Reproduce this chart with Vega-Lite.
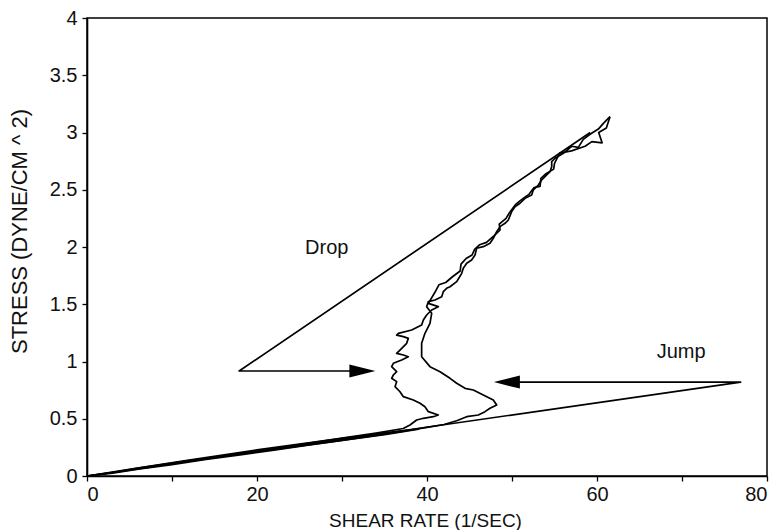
{
  "$schema": "https://vega.github.io/schema/vega-lite/v6.json",
  "width": 680,
  "height": 458,
  "autosize": {"type": "none"},
  "padding": {"left": 87, "top": 18, "right": 15, "bottom": 54},
  "background": "white",
  "config": {
    "font": "Liberation Sans",
    "view": {"stroke": "black", "strokeWidth": 1.5},
    "axis": {"grid": false, "domainColor": "black", "domainWidth": 1.6, "tickColor": "black", "tickWidth": 1.3, "tickSize": 5, "labelColor": "#111", "titleColor": "#111", "labelFont": "Liberation Sans", "titleFont": "Liberation Sans", "titleFontWeight": "normal"}
  },
  "datasets": {
    "paths": [
      {"series": "jump", "i": 0, "x": 0, "y": 0},
      {"series": "jump", "i": 1, "x": 76.9, "y": 0.82},
      {"series": "jump", "i": 2, "x": 50.5, "y": 0.82},
      {"series": "drop", "i": 0, "x": 59.2, "y": 3.0},
      {"series": "drop", "i": 1, "x": 17.9, "y": 0.917},
      {"series": "drop", "i": 2, "x": 32.0, "y": 0.917},
      {"series": "loop", "i": 0, "x": 0, "y": 0},
      {"series": "loop", "i": 1, "x": 5, "y": 0.05},
      {"series": "loop", "i": 2, "x": 12, "y": 0.13},
      {"series": "loop", "i": 3, "x": 20, "y": 0.212},
      {"series": "loop", "i": 4, "x": 28, "y": 0.292},
      {"series": "loop", "i": 5, "x": 35, "y": 0.362},
      {"series": "loop", "i": 6, "x": 39, "y": 0.41},
      {"series": "loop", "i": 7, "x": 36, "y": 0.385},
      {"series": "loop", "i": 8, "x": 28, "y": 0.31},
      {"series": "loop", "i": 9, "x": 20, "y": 0.228},
      {"series": "loop", "i": 10, "x": 12, "y": 0.138},
      {"series": "loop", "i": 11, "x": 5, "y": 0.058},
      {"series": "loop", "i": 12, "x": 0, "y": 0},
      {"series": "up", "i": 0, "x": 0, "y": 0},
      {"series": "up", "i": 1, "x": 3, "y": 0.025},
      {"series": "up", "i": 2, "x": 6, "y": 0.06},
      {"series": "up", "i": 3, "x": 10, "y": 0.1},
      {"series": "up", "i": 4, "x": 14, "y": 0.145},
      {"series": "up", "i": 5, "x": 18, "y": 0.185},
      {"series": "up", "i": 6, "x": 22, "y": 0.225},
      {"series": "up", "i": 7, "x": 26, "y": 0.27},
      {"series": "up", "i": 8, "x": 30, "y": 0.31},
      {"series": "up", "i": 9, "x": 34, "y": 0.355},
      {"series": "up", "i": 10, "x": 38, "y": 0.4},
      {"series": "up", "i": 11, "x": 40, "y": 0.425},
      {"series": "up", "i": 12, "x": 42, "y": 0.45},
      {"series": "up", "i": 13, "x": 43.49, "y": 0.483},
      {"series": "up", "i": 14, "x": 44.67, "y": 0.518},
      {"series": "up", "i": 15, "x": 46.04, "y": 0.533},
      {"series": "up", "i": 16, "x": 46.82, "y": 0.562},
      {"series": "up", "i": 17, "x": 47.41, "y": 0.591},
      {"series": "up", "i": 18, "x": 48.2, "y": 0.62},
      {"series": "up", "i": 19, "x": 47.8, "y": 0.664},
      {"series": "up", "i": 20, "x": 46.62, "y": 0.707},
      {"series": "up", "i": 21, "x": 45.45, "y": 0.751},
      {"series": "up", "i": 22, "x": 44.47, "y": 0.766},
      {"series": "up", "i": 23, "x": 43.49, "y": 0.81},
      {"series": "up", "i": 24, "x": 42.71, "y": 0.853},
      {"series": "up", "i": 25, "x": 41.53, "y": 0.911},
      {"series": "up", "i": 26, "x": 40.35, "y": 0.955},
      {"series": "up", "i": 27, "x": 39.37, "y": 1.042},
      {"series": "up", "i": 28, "x": 39.37, "y": 1.159},
      {"series": "up", "i": 29, "x": 39.76, "y": 1.246},
      {"series": "up", "i": 30, "x": 40.35, "y": 1.333},
      {"series": "up", "i": 31, "x": 40.55, "y": 1.421},
      {"series": "up", "i": 32, "x": 39.96, "y": 1.479},
      {"series": "up", "i": 33, "x": 40.16, "y": 1.523},
      {"series": "up", "i": 34, "x": 40.94, "y": 1.537},
      {"series": "up", "i": 35, "x": 41.73, "y": 1.566},
      {"series": "up", "i": 36, "x": 41.92, "y": 1.61},
      {"series": "up", "i": 37, "x": 42.31, "y": 1.639},
      {"series": "up", "i": 38, "x": 42.71, "y": 1.653},
      {"series": "up", "i": 39, "x": 43.49, "y": 1.697},
      {"series": "up", "i": 40, "x": 44.08, "y": 1.77},
      {"series": "up", "i": 41, "x": 44.27, "y": 1.814},
      {"series": "up", "i": 42, "x": 44.67, "y": 1.858},
      {"series": "up", "i": 43, "x": 45.25, "y": 1.886},
      {"series": "up", "i": 44, "x": 45.65, "y": 1.93},
      {"series": "up", "i": 45, "x": 45.84, "y": 1.989},
      {"series": "up", "i": 46, "x": 46.62, "y": 2.003},
      {"series": "up", "i": 47, "x": 47.41, "y": 2.032},
      {"series": "up", "i": 48, "x": 47.8, "y": 2.076},
      {"series": "up", "i": 49, "x": 48.2, "y": 2.134},
      {"series": "up", "i": 50, "x": 48.59, "y": 2.178},
      {"series": "up", "i": 51, "x": 49.18, "y": 2.207},
      {"series": "up", "i": 52, "x": 49.57, "y": 2.236},
      {"series": "up", "i": 53, "x": 49.96, "y": 2.309},
      {"series": "up", "i": 54, "x": 50.35, "y": 2.352},
      {"series": "up", "i": 55, "x": 50.94, "y": 2.382},
      {"series": "up", "i": 56, "x": 51.53, "y": 2.425},
      {"series": "up", "i": 57, "x": 52.31, "y": 2.454},
      {"series": "up", "i": 58, "x": 52.51, "y": 2.498},
      {"series": "up", "i": 59, "x": 53.1, "y": 2.541},
      {"series": "up", "i": 60, "x": 53.49, "y": 2.585},
      {"series": "up", "i": 61, "x": 53.88, "y": 2.614},
      {"series": "up", "i": 62, "x": 54.47, "y": 2.658},
      {"series": "up", "i": 63, "x": 54.67, "y": 2.701},
      {"series": "up", "i": 64, "x": 54.67, "y": 2.745},
      {"series": "up", "i": 65, "x": 55.06, "y": 2.775},
      {"series": "up", "i": 66, "x": 56.04, "y": 2.818},
      {"series": "up", "i": 67, "x": 57.02, "y": 2.88},
      {"series": "up", "i": 68, "x": 57.8, "y": 2.87},
      {"series": "up", "i": 69, "x": 58.39, "y": 2.94},
      {"series": "up", "i": 70, "x": 59.18, "y": 2.985},
      {"series": "up", "i": 71, "x": 60.16, "y": 3.03},
      {"series": "up", "i": 72, "x": 60.75, "y": 3.08},
      {"series": "up", "i": 73, "x": 61.53, "y": 3.138},
      {"series": "down", "i": 0, "x": 61.53, "y": 3.138},
      {"series": "down", "i": 1, "x": 61.1, "y": 3.04},
      {"series": "down", "i": 2, "x": 60.2, "y": 3.0},
      {"series": "down", "i": 3, "x": 60.6, "y": 2.91},
      {"series": "down", "i": 4, "x": 59.4, "y": 2.92},
      {"series": "down", "i": 5, "x": 58.6, "y": 2.88},
      {"series": "down", "i": 6, "x": 57.0, "y": 2.84},
      {"series": "down", "i": 7, "x": 55.6, "y": 2.82},
      {"series": "down", "i": 8, "x": 55.0, "y": 2.73},
      {"series": "down", "i": 9, "x": 54.9, "y": 2.68},
      {"series": "down", "i": 10, "x": 54.0, "y": 2.64},
      {"series": "down", "i": 11, "x": 53.4, "y": 2.6},
      {"series": "down", "i": 12, "x": 53.3, "y": 2.53},
      {"series": "down", "i": 13, "x": 52.6, "y": 2.52},
      {"series": "down", "i": 14, "x": 52.0, "y": 2.46},
      {"series": "down", "i": 15, "x": 51.6, "y": 2.44},
      {"series": "down", "i": 16, "x": 50.9, "y": 2.4},
      {"series": "down", "i": 17, "x": 50.4, "y": 2.37},
      {"series": "down", "i": 18, "x": 49.7, "y": 2.3},
      {"series": "down", "i": 19, "x": 49.3, "y": 2.25},
      {"series": "down", "i": 20, "x": 48.5, "y": 2.2},
      {"series": "down", "i": 21, "x": 48.6, "y": 2.15},
      {"series": "down", "i": 22, "x": 47.9, "y": 2.1},
      {"series": "down", "i": 23, "x": 47.0, "y": 2.04},
      {"series": "down", "i": 24, "x": 46.2, "y": 2.02},
      {"series": "down", "i": 25, "x": 45.6, "y": 1.98},
      {"series": "down", "i": 26, "x": 45.3, "y": 1.93},
      {"series": "down", "i": 27, "x": 44.6, "y": 1.9},
      {"series": "down", "i": 28, "x": 44.0, "y": 1.85},
      {"series": "down", "i": 29, "x": 43.9, "y": 1.79},
      {"series": "down", "i": 30, "x": 43.0, "y": 1.74},
      {"series": "down", "i": 31, "x": 42.2, "y": 1.69},
      {"series": "down", "i": 32, "x": 41.4, "y": 1.67},
      {"series": "down", "i": 33, "x": 40.9, "y": 1.6},
      {"series": "down", "i": 34, "x": 40.16, "y": 1.508},
      {"series": "down", "i": 35, "x": 41.33, "y": 1.479},
      {"series": "down", "i": 36, "x": 40.55, "y": 1.45},
      {"series": "down", "i": 37, "x": 39.96, "y": 1.406},
      {"series": "down", "i": 38, "x": 39.57, "y": 1.362},
      {"series": "down", "i": 39, "x": 39.37, "y": 1.319},
      {"series": "down", "i": 40, "x": 38.2, "y": 1.275},
      {"series": "down", "i": 41, "x": 36.63, "y": 1.246},
      {"series": "down", "i": 42, "x": 36.43, "y": 1.231},
      {"series": "down", "i": 43, "x": 37.22, "y": 1.217},
      {"series": "down", "i": 44, "x": 37.8, "y": 1.202},
      {"series": "down", "i": 45, "x": 37.61, "y": 1.159},
      {"series": "down", "i": 46, "x": 36.82, "y": 1.1},
      {"series": "down", "i": 47, "x": 36.43, "y": 1.071},
      {"series": "down", "i": 48, "x": 37.22, "y": 1.057},
      {"series": "down", "i": 49, "x": 37.8, "y": 1.042},
      {"series": "down", "i": 50, "x": 37.02, "y": 1.013},
      {"series": "down", "i": 51, "x": 36.04, "y": 0.984},
      {"series": "down", "i": 52, "x": 35.84, "y": 0.955},
      {"series": "down", "i": 53, "x": 36.43, "y": 0.911},
      {"series": "down", "i": 54, "x": 36.04, "y": 0.882},
      {"series": "down", "i": 55, "x": 35.84, "y": 0.853},
      {"series": "down", "i": 56, "x": 36.43, "y": 0.824},
      {"series": "down", "i": 57, "x": 36.24, "y": 0.78},
      {"series": "down", "i": 58, "x": 36.82, "y": 0.736},
      {"series": "down", "i": 59, "x": 37.22, "y": 0.693},
      {"series": "down", "i": 60, "x": 38.39, "y": 0.664},
      {"series": "down", "i": 61, "x": 39.18, "y": 0.635},
      {"series": "down", "i": 62, "x": 39.76, "y": 0.605},
      {"series": "down", "i": 63, "x": 40.16, "y": 0.562},
      {"series": "down", "i": 64, "x": 41.33, "y": 0.533},
      {"series": "down", "i": 65, "x": 40.74, "y": 0.518},
      {"series": "down", "i": 66, "x": 39.57, "y": 0.504},
      {"series": "down", "i": 67, "x": 38.78, "y": 0.489},
      {"series": "down", "i": 68, "x": 38.0, "y": 0.445},
      {"series": "down", "i": 69, "x": 37.2, "y": 0.415},
      {"series": "down", "i": 70, "x": 34, "y": 0.375},
      {"series": "down", "i": 71, "x": 30, "y": 0.33},
      {"series": "down", "i": 72, "x": 26, "y": 0.285},
      {"series": "down", "i": 73, "x": 22, "y": 0.24},
      {"series": "down", "i": 74, "x": 18, "y": 0.195},
      {"series": "down", "i": 75, "x": 14, "y": 0.155},
      {"series": "down", "i": 76, "x": 10, "y": 0.112},
      {"series": "down", "i": 77, "x": 6, "y": 0.068},
      {"series": "down", "i": 78, "x": 3, "y": 0.03},
      {"series": "down", "i": 79, "x": 0, "y": 0}
    ],
    "heads": [
      {"arrow": "Drop", "x": 32.4, "y": 0.917},
      {"arrow": "Jump", "x": 49.4, "y": 0.82}
    ],
    "labels": [
      {"text": "Drop", "x": 28.2, "y": 1.99},
      {"text": "Jump", "x": 69.9, "y": 1.08}
    ]
  },
  "encoding": {
    "x": {"type": "quantitative", "scale": {"domain": [0, 80], "nice": false}},
    "y": {"type": "quantitative", "scale": {"domain": [0, 4], "nice": false}}
  },
  "layer": [
    {
      "data": {"name": "paths"},
      "mark": {"type": "line", "color": "black", "strokeWidth": 1.7, "strokeJoin": "round"},
      "encoding": {
        "x": {"field": "x", "type": "quantitative",
          "axis": {"title": "SHEAR RATE (1/SEC)", "values": [0, 10, 20, 30, 40, 50, 60, 70, 80], "labelExpr": "datum.value % 20 == 0 ? datum.label : ''", "labelFontSize": 20, "labelPadding": 3, "titleFontSize": 19, "titleX": 338, "titleY": 44, "titleBaseline": "middle"}},
        "y": {"field": "y", "type": "quantitative",
          "axis": {"title": "STRESS (DYNE/CM ^ 2)", "values": [0, 0.5, 1, 1.5, 2, 2.5, 3, 3.5, 4], "format": "~g", "labelFontSize": 20, "labelPadding": 5, "titleFontSize": 22, "titleX": -68, "titleY": 213, "titleBaseline": "middle", "titleAngle": -90}},
        "detail": {"field": "series"},
        "order": {"field": "i", "type": "quantitative"}
      }
    },
    {
      "data": {"name": "heads"},
      "transform": [{"filter": "datum.arrow == 'Drop'"}],
      "mark": {"type": "point", "filled": true, "color": "black", "opacity": 1, "size": 676, "shape": "M-1,-0.5L1,0L-1,0.5Z"},
      "encoding": {"x": {"field": "x", "type": "quantitative"}, "y": {"field": "y", "type": "quantitative"}}
    },
    {
      "data": {"name": "heads"},
      "transform": [{"filter": "datum.arrow == 'Jump'"}],
      "mark": {"type": "point", "filled": true, "color": "black", "opacity": 1, "size": 676, "shape": "M1,-0.5L-1,0L1,0.5Z"},
      "encoding": {"x": {"field": "x", "type": "quantitative"}, "y": {"field": "y", "type": "quantitative"}}
    },
    {
      "data": {"name": "labels"},
      "mark": {"type": "text", "fontSize": 20, "color": "#111", "align": "center", "baseline": "middle"},
      "encoding": {"x": {"field": "x", "type": "quantitative"}, "y": {"field": "y", "type": "quantitative"}, "text": {"field": "text"}}
    }
  ]
}
